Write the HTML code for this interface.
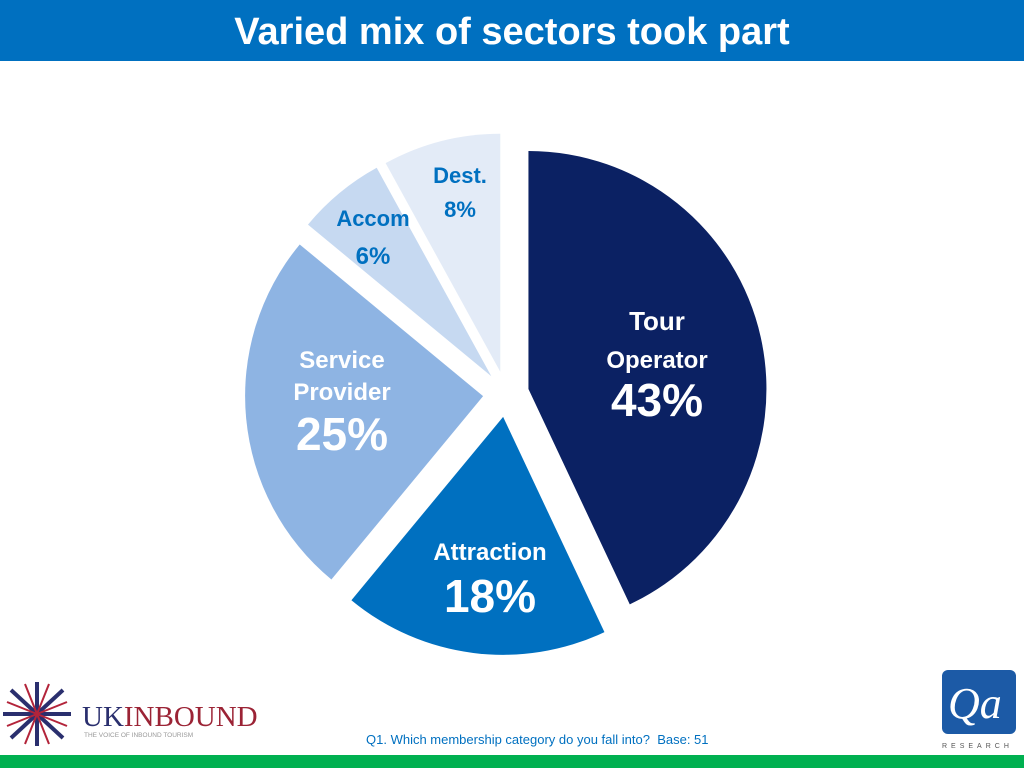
<!DOCTYPE html>
<html><head><meta charset="utf-8"><style>
body{margin:0;width:1024px;height:768px;overflow:hidden;background:#fff;font-family:"Liberation Sans",sans-serif;position:relative}
#title{position:absolute;left:0;top:0;width:1024px;height:61px;background:#0070c0;color:#fff;font-family:"Liberation Sans",sans-serif;font-weight:bold;font-size:38px;line-height:64px;text-align:center}
#foot{position:absolute;left:0;top:755px;width:1024px;height:13px;background:#00b050}
#q{position:absolute;left:366px;top:732px;font-size:13px;color:#0070c0}
</style></head><body>
<div id="title">Varied mix of sectors took part</div>
<svg id="pie" width="1024" height="768" style="position:absolute;left:0;top:0"></svg>
<div id="q">Q1. Which membership category do you fall into?&nbsp; Base: 51</div>
<div id="foot"></div>
<svg width="260" height="70" style="position:absolute;left:0;top:680px">
 <g transform="translate(37,34)">
  <g stroke="#2a2f6e" stroke-width="4"><line x1="-34" y1="0" x2="34" y2="0"/><line x1="0" y1="-32" x2="0" y2="32"/><line x1="-26" y1="-24" x2="26" y2="24"/><line x1="-26" y1="24" x2="26" y2="-24"/></g>
  <g stroke="#b3243a" stroke-width="2"><line x1="-30" y1="-12" x2="30" y2="12"/><line x1="-30" y1="12" x2="30" y2="-12"/><line x1="-12" y1="-30" x2="12" y2="30"/><line x1="12" y1="-30" x2="-12" y2="30"/></g>
 </g>
 <text x="82" y="46" font-family="Liberation Serif,serif" font-size="29" fill="#2a2f6e">UK<tspan fill="#9b2335">INBOUND</tspan></text>
 <text x="84" y="57" font-size="6.5" fill="#999">THE VOICE OF INBOUND TOURISM</text>
</svg>
<svg width="80" height="90" style="position:absolute;left:940px;top:668px">
 <rect x="2" y="2" width="74" height="64" rx="6" fill="#1c5aa6"/>
 <text x="8" y="50" font-family="Liberation Serif,serif" font-style="italic" font-size="44" fill="#fff">Qa</text>
 <text x="2" y="80" font-size="7" letter-spacing="4" fill="#555">RESEARCH</text>
</svg>
<script>
const categories=["Tour Operator","Attraction","Service Provider","Accom","Dest."];
const values=[43,18,25,6,8];
const colors=["#0b2163","#0070c0","#8eb4e3","#c6d9f1","#e3ebf7"];
const cx=506,cy=394,R=238,EX=23;
const svg=document.getElementById('pie');
const NS="http://www.w3.org/2000/svg";
const total=values.reduce((a,b)=>a+b,0);
const labelDefs=[
 {lines:["Tour","Operator","43%"],sizes:[26,24,46],dy:[0,38,86],col:"#fff"},
 {lines:["Attraction","18%"],sizes:[24,46],dy:[0,52],col:"#fff"},
 {lines:["Service","Provider","25%"],sizes:[24,24,46],dy:[0,32,82],col:"#fff"},
 {lines:["Accom","6%"],sizes:[22,24],dy:[0,38],col:"#0070c0"},
 {lines:["Dest.","8%"],sizes:[22,22],dy:[0,34],col:"#0070c0"}];
const lpos=[[657,330],[490,560],[342,368],[373,226],[460,183]];
let a0=0;
values.forEach((v,i)=>{
 const a1=a0+v/total*2*Math.PI, am=(a0+a1)/2;
 const ox=cx+EX*Math.sin(am), oy=cy-EX*Math.cos(am);
 const p=(a)=>[ox+R*Math.sin(a),oy-R*Math.cos(a)];
 const s=p(a0),e=p(a1);
 const path=document.createElementNS(NS,'path');
 path.setAttribute('d',`M${ox},${oy}L${s[0]},${s[1]}A${R},${R} 0 ${a1-a0>Math.PI?1:0} 1 ${e[0]},${e[1]}Z`);
 path.setAttribute('fill',colors[i]);
 
 
 svg.appendChild(path);
 const d=labelDefs[i];
 d.lines.forEach((t,j)=>{
  const tx=document.createElementNS(NS,'text');
  tx.setAttribute('x',lpos[i][0]);tx.setAttribute('y',lpos[i][1]+d.dy[j]);
  tx.setAttribute('text-anchor','middle');tx.setAttribute('font-weight','bold');
  tx.setAttribute('font-size',d.sizes[j]);tx.setAttribute('fill',d.col);
  tx.textContent=(j===d.lines.length-1)?values[i]+"%":t;
  
  
  svg.appendChild(tx);
 });
 a0=a1;
});
</script>
</body></html>
